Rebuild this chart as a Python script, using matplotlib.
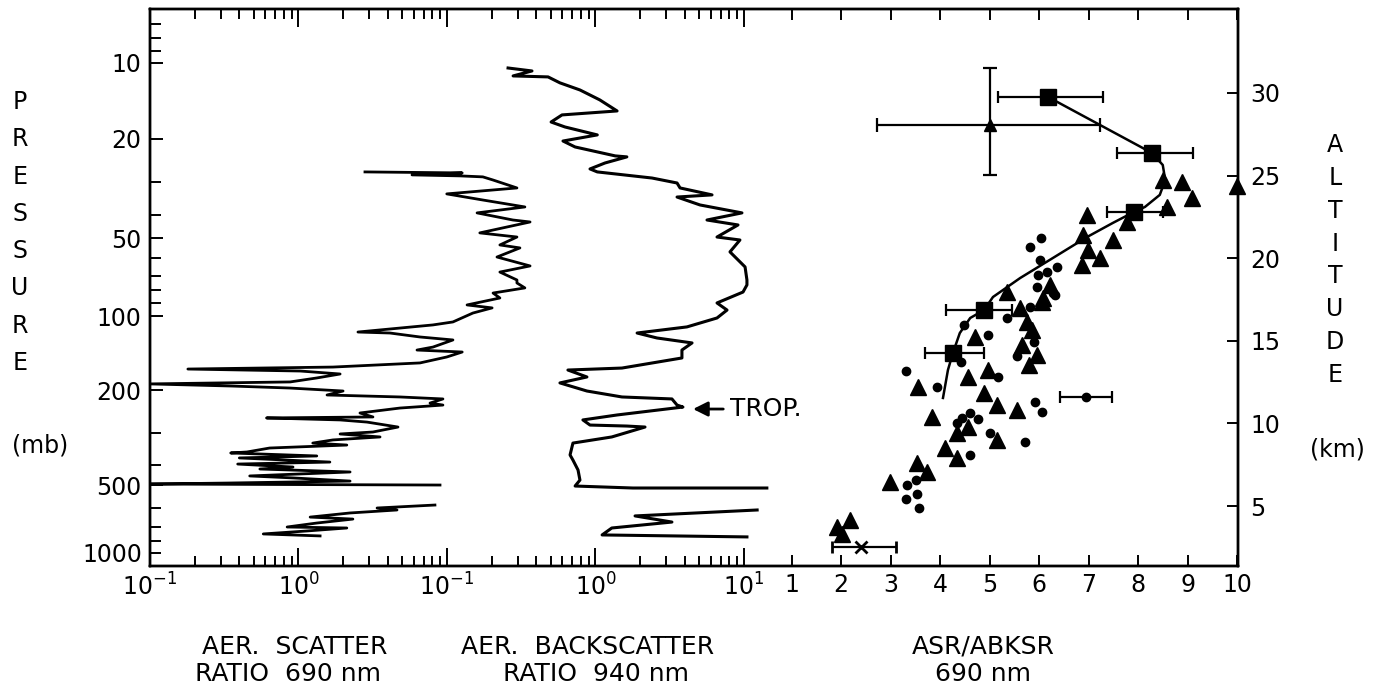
import matplotlib
matplotlib.use('Agg')
import matplotlib.pyplot as plt
from matplotlib.ticker import NullFormatter

plt.rcParams['font.family'] = ['DejaVu Sans']

# ---------------- data ----------------
# left profile: aerosol scatter ratio 690 nm vs altitude (km); None = data gap
scat_km = [25.22, 25.16, 25.04, 24.98, 24.92, 24.73, 24.25, 23.89, 23.52, 23.10, 22.74, 22.31,
           22.19, 21.53, 21.28, 20.80, 20.62, 20.07, 19.53, 19.16, 18.68, 18.50, 18.20, 17.89,
           17.59, 17.17, 16.99, 16.68, 16.14, 15.96, 15.53, 15.47, 15.23, 15.05, 14.62, 14.44,
           14.32, 14.02, 13.66, 13.41, 13.29, 13.17, 12.99, 12.75, 12.51, 12.39, 12.26, 12.14,
           11.96, 11.72, 11.60, 11.48, 11.23, 11.11, 10.93, 10.63, 10.39, 10.33, 10.21, 10.08,
           9.78, 9.48, 9.36, 9.18, 9.00, 8.81, 8.69, 8.51, 8.27, 8.21, 8.03, 7.91, 7.66, 7.54,
           7.36, 7.24, 7.06, 6.82, 6.70, 6.51, 6.39, 6.33, 6.27, None,
           5.06, 4.88, 4.76, 4.58, 4.33, 4.21, 3.97, 3.73, 3.67, 3.49, 3.31, 3.19]
scat_ratio = [2.81, 12.7, 5.83, 12.3, 17.5, 20.5, 29.7, 10.0, 17.5, 33.6, 16.0, 27.9,
              36.4, 16.7, 29.7, 22.8, 31.1, 21.8, 36.4, 22.8, 29.7, 29.7, 33.6, 20.5,
              22.8, 13.7, 20.2, 15.0, 11.0, 8.07, 2.52, 4.14, 6.60, 11.0, 8.07, 6.30,
              12.7, 10.0, 6.60, 1.71, 0.18, 1.03, 1.91, 1.33, 0.88, 0.10, 0.36, 0.88,
              2.00, 1.56, 4.84, 9.42, 7.71, 9.42, 4.84, 2.60, 3.18, 0.61, 1.91, 2.90,
              4.69, 3.18, 1.91, 3.55, 1.71, 1.25, 2.12, 0.64, 0.45, 0.35, 1.33, 0.40, 1.63, 0.39,
              0.92, 0.55, 2.23, 0.47, 0.92, 2.23, 0.33, 0.10, 9.0, None,
              8.32, 3.39, 4.62, 2.23, 1.20, 2.33, 1.33, 0.84, 2.12, 1.14, 0.58, 1.40]

# middle profile: aerosol backscatter ratio 940 nm vs altitude (km)
bks_km = [31.51, 31.33, 31.03, 30.97, 30.61, 30.18, 29.58, 28.91, 28.67, 28.24, 27.94, 27.46,
          27.09, 26.73, 26.19, 26.13, 25.76, 25.40, 25.22, 24.85, 24.55, 24.25, 23.83, 23.70,
          23.22, 22.74, 22.31, 22.01, 21.28, 21.10, 20.38, 19.47, 18.68, 18.38, 17.95, 17.29,
          16.86, 16.38, 15.84, 15.47, 15.17, 14.87, 14.44, 13.96, 13.35, 13.23, 12.81, 12.45,
          11.96, 11.60, 11.48, 11.11, 10.99, 10.75, 10.51, 10.21, 9.90, 9.84, 9.78, 9.18,
          8.81, 8.09, 7.78, 7.18, 6.57, 6.21, 6.09, 6.09, None,
          4.76, 4.40, 4.03, 3.67, 3.25, 3.13]
bks_ratio = [0.258, 0.374, 0.279, 0.480, 0.577, 0.787, 1.07, 1.40, 0.596, 0.503, 0.624, 1.03,
             0.605, 0.730, 1.36, 1.63, 1.16, 0.920, 1.03, 2.41, 3.55, 3.72, 6.11, 3.55,
             5.07, 9.72, 5.65, 9.14, 6.60, 9.42, 8.07, 10.2, 10.5, 10.5, 9.88, 6.60,
             7.71, 6.60, 4.14, 1.91, 2.60, 4.48, 3.83, 3.83, 1.51, 0.653, 0.877, 0.577,
             0.877, 1.51, 3.28, 3.55, 3.89, 2.33, 1.40, 0.824, 0.920, 1.63, 2.16, 1.29,
             0.706, 0.675, 0.706, 0.764, 0.787, 0.730, 1.79, 14.3, None,
             12.3, 1.85, 3.28, 1.29, 1.11, 10.5]

# right panel: ASR/ABKSR 690 nm
fit_ratio = [6.18, 8.28, 8.50, 8.55, 8.44, 8.14, 7.92, 7.49, 6.97, 6.28, 5.62, 5.07,
             4.89, 4.61, 4.40, 4.26, 4.16, 4.06]
fit_km = [29.76, 26.37, 25.64, 24.73, 23.83, 23.10, 22.80, 22.13, 21.28, 20.01, 18.80, 17.65,
          16.86, 16.38, 15.47, 14.26, 13.23, 11.54]

tri_ratio = [8.51, 8.89, 9.09, 8.59, 6.97, 7.78, 6.89, 7.49, 6.99, 7.23, 6.87, 6.22, 5.35,
             6.08, 6.06, 5.62, 5.76, 5.86, 4.71, 5.66, 5.96, 5.80, 4.97, 4.57, 3.56, 4.89,
             5.15, 5.56, 3.84, 4.57, 4.34, 5.15, 4.10, 4.34, 3.54, 3.74, 2.99, 2.18, 1.92,
             2.02, 10.0]
tri_km = [24.73, 24.61, 23.64, 23.10, 22.62, 22.19, 21.40, 21.10, 20.50, 20.01, 19.59, 18.38,
          17.95, 17.59, 17.35, 16.99, 16.14, 15.65, 15.23, 14.74, 14.14, 13.54, 13.23, 12.81,
          12.20, 11.84, 11.11, 10.81, 10.39, 9.78, 9.42, 9.00, 8.51, 7.91, 7.60, 7.06, 6.45,
          4.15, 3.73, 3.31, 24.37]

dot_ratio = [5.82, 6.04, 6.02, 6.36, 5.98, 6.16, 5.96, 6.28, 6.32, 5.82, 5.35, 4.48, 4.97,
             5.90, 5.56, 4.42, 3.31, 5.17, 3.94, 5.92, 6.06, 4.61, 4.77, 4.34, 4.44, 5.01,
             5.72, 4.61, 3.52, 3.33, 3.54, 3.31, 3.58]
dot_km = [20.68, 21.22, 19.89, 19.47, 18.98, 19.16, 18.26, 17.89, 17.77, 17.05, 16.38, 15.96,
          15.35, 14.93, 14.08, 13.72, 13.17, 12.81, 12.20, 11.30, 10.69, 10.63, 10.27, 10.02,
          10.33, 9.42, 8.87, 8.09, 6.57, 6.27, 5.73, 5.43, 4.88]

sq_ratio = [6.18, 8.28, 7.92, 4.89, 4.26]
sq_km = [29.76, 26.37, 22.80, 16.86, 14.26]
sq_lo = [5.17, 7.58, 7.37, 4.12, 3.70]
sq_hi = [7.29, 9.11, 8.50, 5.45, 4.89]

# single points carrying error bars
big_tri = (5.0, 28.06, 2.73, 7.23, 25.04, 31.51)   # ratio, km, xlo, xhi, ylo, yhi
err_dot = (6.95, 11.60, 6.42, 7.47)
err_x = (2.40, 2.52, 1.82, 3.11)

# axis ticks
pressure_ticks = [10, 20, 50, 100, 200, 500, 1000]
pressure_tick_km = [31.82, 27.22, 21.22, 16.50, 12.02, 6.27, 1.37]
pressure_minor_km = [34.18, 33.33, 32.54, 24.61, 22.62, 20.01, 18.92, 18.08, 17.29,
                     9.42, 7.48, 4.88, 3.73, 2.88, 2.15]
altitude_ticks = [5, 10, 15, 20, 25, 30]

W, H = 1385, 694
def fx(px):
    return px / W
def fy(py):
    return 1 - py / H

fig = plt.figure(figsize=(13.85, 6.94), dpi=100)
ax1 = fig.add_axes([fx(150), fy(566), (1238 - 150) / W, (566 - 9) / H])
ax2 = ax1.twiny()
ax3 = ax1.twiny()
axr = ax1.twinx()

YLIM = (1.37, 35.08)
for a in (ax1, ax2, ax3, axr):
    a.set_ylim(*YLIM)
    for s in a.spines.values():
        s.set_linewidth(1.6)

# panel scales: each panel axis spans whole frame, ticks only in its part
ax1.set_xscale('log')
ax1.set_xlim(0.1, 10 ** 6.332)
ax2.set_xscale('log')
ax2.set_xlim(10 ** -3.001, 10 ** 4.330)
ax3.set_xlim(-11.96, 10.02)

minor_dec = [0.2, 0.3, 0.4, 0.5, 0.6, 0.7, 0.8, 0.9, 2, 3, 4, 5, 6, 7, 8, 9]
ax1.set_xticks([0.1, 1], labels=['$10^{-1}$', '$10^{0}$'])
ax1.set_xticks(minor_dec, minor=True)
ax2.set_xticks([0.1, 1, 10], labels=['$10^{-1}$', '$10^{0}$', '$10^{1}$'])
ax2.set_xticks(minor_dec, minor=True)
ax3.set_xticks(range(1, 11), labels=[str(i) for i in range(1, 11)])
for a in (ax1, ax2, ax3):
    a.xaxis.set_minor_formatter(NullFormatter())
    a.xaxis.set_ticks_position('both')
    a.tick_params(axis='x', which='major', direction='in', length=13, width=1.4,
                  labelsize=17, pad=5, labelbottom=True, labeltop=False)
    a.tick_params(axis='x', which='minor', direction='in', length=7, width=1.4)
ax3.tick_params(axis='x', which='major', length=8)

# left: pressure (1000 label sits a bit above its tick), right: altitude
ax1.set_yticks(pressure_tick_km, labels=[str(p) if p != 1000 else '' for p in pressure_ticks])
ax1.set_yticks(pressure_minor_km, minor=True)
ax1.tick_params(axis='y', which='major', direction='in', length=9, width=1.4, labelsize=17, pad=6)
ax1.tick_params(axis='y', which='minor', direction='in', length=8, width=1.4)
fig.text(fx(142), fy(555), '1000', ha='right', va='center', fontsize=17)
axr.set_yticks(altitude_ticks)
axr.tick_params(axis='y', direction='in', length=8, width=1.4, labelsize=17, pad=9)

# profiles
sk = [float('nan') if v is None else v for v in scat_km]
sr = [float('nan') if v is None else v for v in scat_ratio]
ax1.plot(sr, sk, color='k', lw=2.0)
bk = [float('nan') if v is None else v for v in bks_km]
br = [float('nan') if v is None else v for v in bks_ratio]
ax2.plot(br, bk, color='k', lw=2.2)
ax2.annotate('TROP.', xy=(4.55, 10.87), xytext=(8.1, 10.87), va='center', ha='left',
             fontsize=18,
             arrowprops=dict(arrowstyle='-|>', color='k', lw=2, mutation_scale=22,
                             shrinkA=3, shrinkB=0))

# ASR/ABKSR panel
ax3.plot(fit_ratio, fit_km, color='k', lw=1.8)
ax3.plot(tri_ratio, tri_km, '^', color='k', ms=11, clip_on=False)
ax3.plot(dot_ratio, dot_km, 'o', color='k', ms=6)
ax3.errorbar(sq_ratio, sq_km,
             xerr=[[r - lo for r, lo in zip(sq_ratio, sq_lo)],
                   [hi - r for r, hi in zip(sq_ratio, sq_hi)]],
             fmt='s', color='k', ms=12, capsize=4, elinewidth=1.6, capthick=1.6)
r, k, xl, xh, yl, yh = big_tri
ax3.errorbar([r], [k], xerr=[[r - xl], [xh - r]], yerr=[[k - yl], [yh - k]],
             fmt='^', color='k', ms=9, capsize=5, elinewidth=1.6, capthick=1.6)
r, k, xl, xh = err_dot
ax3.errorbar([r], [k], xerr=[[r - xl], [xh - r]], fmt='o', color='k', ms=6,
             capsize=4, elinewidth=1.6, capthick=1.6)
r, k, xl, xh = err_x
ax3.errorbar([r], [k], xerr=[[r - xl], [xh - r]], fmt='x', color='k', ms=8, mew=2,
             capsize=4, elinewidth=1.6, capthick=1.6)

# stacked axis titles
def stacked(word, x, y0, y1):
    step = (y1 - y0) / (len(word) - 1)
    for i, ch in enumerate(word):
        fig.text(fx(x), fy(y0 + i * step), ch, ha='center', va='center', fontsize=17)

stacked('PRESSURE', 20, 102, 363)
stacked('ALTITUDE', 1335, 145, 375)
fig.text(fx(40), fy(445), '(mb)', ha='center', va='center', fontsize=17)
fig.text(fx(1337), fy(449), '(km)', ha='center', va='center', fontsize=17)

# bottom captions
fig.text(fx(295), fy(647), 'AER.  SCATTER', ha='center', va='center', fontsize=18)
fig.text(fx(288), fy(674), 'RATIO  690 nm', ha='center', va='center', fontsize=18)
fig.text(fx(588), fy(647), 'AER.  BACKSCATTER', ha='center', va='center', fontsize=18)
fig.text(fx(596), fy(674), 'RATIO  940 nm', ha='center', va='center', fontsize=18)
fig.text(fx(983), fy(647), 'ASR/ABKSR', ha='center', va='center', fontsize=18)
fig.text(fx(983), fy(674), '690 nm', ha='center', va='center', fontsize=18)

fig.savefig('out.png', dpi=100)
